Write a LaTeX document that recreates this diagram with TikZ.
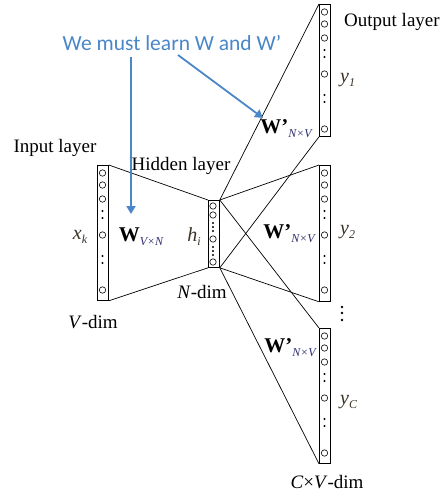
\documentclass[tikz,border=0pt]{standalone}
\usepackage{fontspec}
\setmainfont{Liberation Serif}
\newfontfamily\notefont{Carlito}
\usetikzlibrary{arrows.meta}
\definecolor{noteblue}{HTML}{4A86C8}
\definecolor{varbrown}{HTML}{3B3226}
\definecolor{subblue}{HTML}{2E2E6E}
\newcommand\unitcol[2]{%
  \foreach \d in {8,20,34,70,125} \draw[line width=0.6pt] (#1,#2+\d) circle[radius=3.2pt];
  \foreach \d in {46,53,91,98} \fill (#1,#2+\d) circle[radius=1.2pt];}
\newcommand\sbs[1]{\raisebox{-4pt}{\fontsize{12}{12}\selectfont\itshape #1}}
\newcommand\wprime{{\fontsize{21}{22}\selectfont\bfseries W’}\textcolor{subblue}{\sbs{N×V}}}
\begin{document}
\begin{tikzpicture}[x=1pt,y=-1pt,
  bar/.style={draw, line width=0.8pt, minimum width=11pt, inner sep=0pt, anchor=north west},
  link/.style={line width=0.7pt},
  lbl/.style={font=\fontsize{19}{21}\selectfont, inner sep=0pt},
  var/.style={font=\fontsize{20}{22}\selectfont\itshape, text=varbrown, inner sep=0pt},
  note/.style={font=\notefont\fontsize{21.5}{24}\selectfont, text=noteblue, inner sep=0pt},
  bluearrow/.style={draw=noteblue, line width=1.8pt, -{Triangle[length=8pt,width=9pt]}}
]
\useasboundingbox (0,0) rectangle (441,496);

% bars
\node[bar, minimum height=135pt] (in) at (97,165) {};
\node[bar, minimum height=67pt] (hid) at (208,200) {};
\node[bar, minimum height=132pt] (o1) at (319,4) {};
\node[bar, minimum height=136pt] (o2) at (319,165) {};
\node[bar, minimum height=135pt] (o3) at (319,328) {};

% units
\unitcol{102.5}{165}
\unitcol{324.5}{4}
\unitcol{324.5}{165}
\unitcol{324.5}{328}
\foreach \d in {6,15,39,62} \draw[line width=0.6pt] (213,200+\d) circle[radius=3.2pt];
\foreach \d in {23,27,31,47,51,55} \fill (213,200+\d) circle[radius=1.1pt];

% connections
\draw[link] (in.north east) -- (hid.north west);
\draw[link] (in.south east) -- (hid.south west);
\draw[link] (hid.north east) -- (o1.north west);
\draw[link] (hid.south east) -- (o1.south west);
\draw[link] (hid.north east) -- (o2.north west);
\draw[link] (hid.south east) -- (o2.south west);
\draw[link] (hid.north east) -- (o3.north west);
\draw[link] (hid.south east) -- (o3.south west);

% vertical dots between output blocks
\foreach \d in {307,313,320} \fill (342,\d) circle[radius=1.3pt];

% labels
\node[lbl, anchor=west] (outl) at (344,22) {Output layer};
\node[lbl] (inl) at (55,148) {Input layer};
\node[lbl] (hidl) at (181,166) {Hidden layer};
\node[lbl] (ndim) at (202,292) {\textit{N}-dim};
\node[lbl] (vdim) at (93,322) {\textit{V}-dim};
\node[lbl] (cvdim) at (327,482) {\textit{C}×\textit{V}-dim};

\node[var] (xk) at (80,237) {x\sbs{k}};
\node[var] (hi) at (194,237) {h\sbs{i}};
\node[var, anchor=west] (y1) at (340,80) {y\sbs{1}};
\node[var, anchor=west] (y2) at (340,232) {y\sbs{2}};
\node[var, anchor=west] (yc) at (340,402) {y\sbs{C}};

\node[inner sep=0pt] (w) at (141,237) {{\fontsize{21}{22}\selectfont\bfseries W}\textcolor{subblue}{\sbs{V×N}}};
\node[inner sep=0pt] (wp1) at (286,129) {\wprime};
\node[inner sep=0pt] (wp2) at (289,234) {\wprime};
\node[inner sep=0pt] (wp3) at (290,348) {\wprime};

% note and arrows
\node[note] (learn) at (172,43) {We must learn W and W’};
\coordinate (a1s) at (131,57);
\coordinate (a1e) at (131,214);
\coordinate (a2s) at (178,55);
\coordinate (a2e) at (263,118);
\draw[bluearrow] (a1s) -- (a1e);
\draw[bluearrow] (a2s) -- (a2e);
\end{tikzpicture}
\end{document}
